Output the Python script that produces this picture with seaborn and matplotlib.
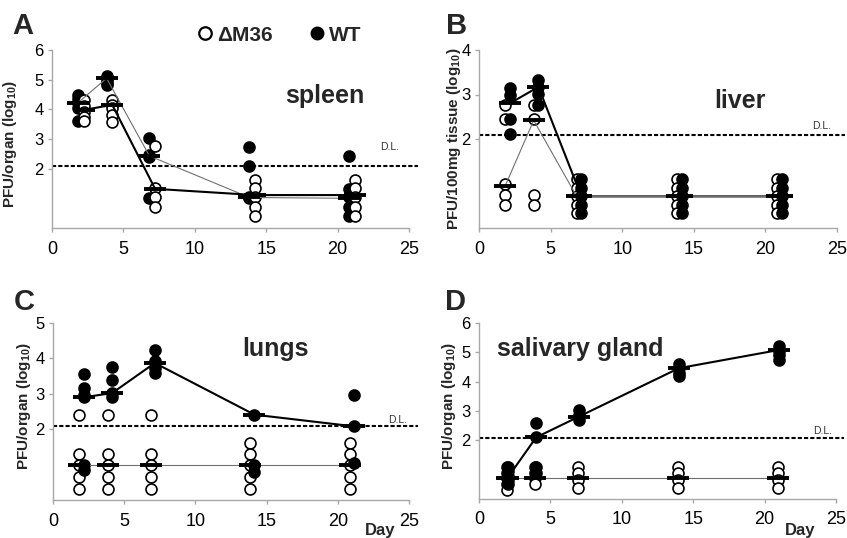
import numpy as np
import pandas as pd
import matplotlib
matplotlib.use("Agg")
import matplotlib.pyplot as plt
import seaborn as sns
from matplotlib.lines import Line2D

# ---------------- data (log10 PFU) ----------------
DAYS = [2, 4, 7, 14, 21]
XTICKS = [0, 5, 10, 15, 20, 25]
DL = 2.08

# A: spleen
A_WT = [[4.5, 4.35, 4.2, 4.05, 3.6], [5.12, 5.05, 4.98, 4.9, 4.82],
        [3.05, 2.45, 2.38, 1.0], [2.72, 2.1, 1.05, 1.0], [2.42, 1.3, 1.05, 0.72, 0.42]]
A_WT_MEAN = [4.22, 5.05, 2.43, 1.03, 1.0]
A_KO = [[4.3, 4.1, 3.9, 3.75, 3.6], [4.3, 4.15, 4.05, 3.8, 3.57],
        [2.75, 1.35, 1.05, 0.72], [1.62, 1.34, 1.05, 0.72, 0.4], [1.62, 1.34, 1.03, 0.72, 0.4]]
A_KO_MEAN = [3.98, 4.15, 1.32, 1.11, 1.11]
A_YTICKS = [2, 3, 4, 5, 6]

# B: liver
B_WT = [[3.14, 3.0, 2.45, 2.11], [3.33, 3.17, 3.02, 2.76],
        [1.09, 0.9, 0.71, 0.52, 0.33], [1.09, 0.9, 0.71, 0.52, 0.33], [1.09, 0.9, 0.71, 0.52, 0.33]]
B_WT_MEAN = [2.8, 3.17, 0.71, 0.71, 0.71]
B_KO = [[2.76, 2.45, 0.98, 0.75, 0.52], [2.76, 2.45, 0.75, 0.52],
        [1.09, 0.9, 0.71, 0.52, 0.33], [1.09, 0.9, 0.71, 0.52, 0.33], [1.09, 0.9, 0.71, 0.52, 0.33]]
B_KO_MEAN = [0.94, 2.42, 0.71, 0.71, 0.71]
B_YTICKS = [2, 3, 4]

# C: lungs
C_WT = [[3.56, 3.16, 2.97, 2.9, 1.0, 0.85], [3.75, 3.38, 3.02, 2.9],
        [4.25, 3.92, 3.73, 3.6], [2.41, 0.99, 0.8], [2.97, 2.08, 1.05]]
C_WT_MEAN = [2.9, 3.02, 3.87, 2.41, 2.08]
C_KO = [[2.41, 1.29, 0.99, 0.66, 0.3], [2.41, 1.29, 0.99, 0.66, 0.3],
        [2.41, 1.29, 0.99, 0.66, 0.3], [1.6, 1.29, 0.99, 0.66, 0.3], [1.6, 1.29, 0.99, 0.66, 0.3]]
C_KO_MEAN = [0.99, 0.99, 0.99, 0.99, 0.99]
C_YTICKS = [2, 3, 4, 5]

# D: salivary gland
D_WT = [[1.1, 0.95, 0.8, 0.65, 0.5], [2.58, 2.1, 1.1, 0.9],
        [3.02, 2.85, 2.68], [4.6, 4.45, 4.3, 4.2], [5.2, 5.05, 4.9, 4.75]]
D_WT_MEAN = [0.72, 2.1, 2.81, 4.46, 5.08]
D_KO = [[1.1, 0.9, 0.7, 0.5, 0.31], [1.1, 0.9, 0.7, 0.5],
        [1.1, 0.88, 0.65, 0.37], [1.1, 0.88, 0.65, 0.37], [1.1, 0.88, 0.65, 0.37]]
D_KO_MEAN = [0.7, 0.7, 0.7, 0.7, 0.7]
D_YTICKS = [2, 3, 4, 5, 6]

LABEL_KO = "\u0394M36"
LABEL_WT = "WT"

# ---------------- style ----------------
sns.set_style("ticks")
plt.rcParams["font.family"] = ["Liberation Sans", "DejaVu Sans"]
plt.rcParams["mathtext.fontset"] = "custom"
plt.rcParams["mathtext.rm"] = "Liberation Sans"
plt.rcParams["mathtext.bf"] = "Liberation Sans:bold"

W, H = 847, 538
fig = plt.figure(figsize=(W / 100, H / 100), dpi=100)

SPINE = "#a8a8a8"
THIN = "#707070"


def add_ax(l, t, r, b):
    return fig.add_axes([l / W, 1 - b / H, (r - l) / W, (b - t) / H])


def long_df(vals, offset, group):
    rows = []
    for d, vs in zip(DAYS, vals):
        for v in vs:
            rows.append({"day": d + offset, "val": v, "group": group})
    return pd.DataFrame(rows)


def mean_df(means, offset, group):
    return pd.DataFrame({"day": [d + offset for d in DAYS], "val": means, "group": group})


panels = [
    dict(box=(52, 50, 409, 228), wt=A_WT, wtm=A_WT_MEAN, ko=A_KO, kom=A_KO_MEAN,
         yt=A_YTICKS, off_wt=-0.18, off_ko=0.22, thick="ko", wt_first=True,
         letter="A", lxy=(12, 34), organ="spleen", oxy=(285, 103),
         ylabel=r"PFU/organ (log$_{\mathbf{10}}$)", ylx=-0.092, yly=0.47,
         dl_xy=(380, 150), dl_end=1.025, day=False),
    dict(box=(479, 50, 837, 228), wt=B_WT, wtm=B_WT_MEAN, ko=B_KO, kom=B_KO_MEAN,
         yt=B_YTICKS, off_wt=0.15, off_ko=-0.18, thick="wt", wt_first=False,
         letter="B", lxy=(446, 34), organ="liver", oxy=(714, 108),
         ylabel=r"PFU/100mg tissue (log$_{\mathbf{10}}$)", ylx=-0.045, yly=0.5,
         dl_xy=(812, 129), dl_end=1.022, day=False),
    dict(box=(53, 323, 409, 500), wt=C_WT, wtm=C_WT_MEAN, ko=C_KO, kom=C_KO_MEAN,
         yt=C_YTICKS, off_wt=0.15, off_ko=-0.15, thick="wt", wt_first=False,
         letter="C", lxy=(14, 310), organ="lungs", oxy=(242, 356),
         ylabel=r"PFU/organ (log$_{\mathbf{10}}$)", ylx=-0.056, yly=0.53,
         dl_xy=(388, 423), dl_end=1.025, day=True, dayx=380),
    dict(box=(479, 323, 836, 499), wt=D_WT, wtm=D_WT_MEAN, ko=D_KO, kom=D_KO_MEAN,
         yt=D_YTICKS, off_wt=0.0, off_ko=-0.05, thick="wt", wt_first=False,
         letter="D", lxy=(445, 310), organ="salivary gland", oxy=(497, 356),
         ylabel=r"PFU/organ (log$_{\mathbf{10}}$)", ylx=-0.059, yly=0.53,
         dl_xy=(813, 434), dl_end=1.022, day=True, dayx=800),
]

for p in panels:
    ax = add_ax(*p["box"])
    wt_df = long_df(p["wt"], p["off_wt"], LABEL_WT)
    ko_df = long_df(p["ko"], p["off_ko"], LABEL_KO)
    wtm = mean_df(p["wtm"], p["off_wt"], LABEL_WT)
    kom = mean_df(p["kom"], p["off_ko"], LABEL_KO)

    order = [(wt_df, "black"), (ko_df, "white")]
    if not p["wt_first"]:
        order = order[::-1]
    for i, (d, fc) in enumerate(order):
        sns.scatterplot(data=d, x="day", y="val", ax=ax, color=fc, edgecolor="black",
                        linewidth=1.2, s=62, marker="o", legend=False, zorder=2 + i * 0.1,
                        clip_on=False)

    wt_thick = p["thick"] == "wt"
    sns.lineplot(data=wtm, x="day", y="val", ax=ax, color="black" if wt_thick else THIN,
                 lw=1.5 if wt_thick else 0.8, legend=False, zorder=3, estimator=None)
    sns.lineplot(data=kom, x="day", y="val", ax=ax, color=THIN if wt_thick else "black",
                 lw=0.8 if wt_thick else 1.5, legend=False, zorder=3, estimator=None)
    allm = pd.concat([wtm, kom])
    sns.scatterplot(data=allm, x="day", y="val", ax=ax, marker="_", s=260, color="black",
                    linewidth=2.8, legend=False, zorder=4, clip_on=False)

    ax.axhline(DL, xmin=0, xmax=p["dl_end"], color="black", lw=1.5,
               linestyle=(0, (2.0, 1.0)), clip_on=False, zorder=1)

    ax.set_xlim(0, 25)
    ax.set_ylim(0, p["yt"][-1])
    ax.set_xticks(XTICKS)
    ax.set_yticks(p["yt"])
    ax.set_xlabel("")
    ax.set_ylabel(p["ylabel"], fontsize=11, fontweight="bold")
    ax.yaxis.set_label_coords(p["ylx"], p["yly"])
    for s in ["top", "right"]:
        ax.spines[s].set_visible(False)
    for s in ["left", "bottom"]:
        ax.spines[s].set_color(SPINE)
        ax.spines[s].set_linewidth(1.0)
    ax.tick_params(axis="x", colors=SPINE, labelcolor="black", length=3, width=1,
                   labelsize=13, pad=6)
    ax.tick_params(axis="y", colors=SPINE, labelcolor="black", length=3, width=1,
                   labelsize=12, pad=3)

    fig.text(p["lxy"][0] / W, 1 - p["lxy"][1] / H, p["letter"], fontsize=21,
             fontweight="bold", ha="left", va="baseline")
    fig.text(p["oxy"][0] / W, 1 - p["oxy"][1] / H, p["organ"], fontsize=18,
             fontweight="bold", ha="left", va="baseline")
    fig.text(p["dl_xy"][0] / W, 1 - p["dl_xy"][1] / H, "D.L.", fontsize=7.5,
             color="#333333", ha="left", va="baseline")
    if p["day"]:
        fig.text(p["dayx"] / W, 1 - 535 / H, "Day", fontsize=12, fontweight="bold",
                 ha="center", va="baseline")

handles = [
    Line2D([], [], marker="o", linestyle="none", markerfacecolor="white",
           markeredgecolor="black", markeredgewidth=1.6, markersize=9),
    Line2D([], [], marker="o", linestyle="none", markerfacecolor="black",
           markeredgecolor="black", markersize=9),
]
fig.legend(handles, [LABEL_KO, LABEL_WT], loc="center", bbox_to_anchor=(278 / W, 1 - 35 / H),
           ncol=2, frameon=False, handletextpad=0.1, columnspacing=1.6, handlelength=1.0,
           prop={"weight": "bold", "size": 15})

fig.savefig("out.png", dpi=100)
